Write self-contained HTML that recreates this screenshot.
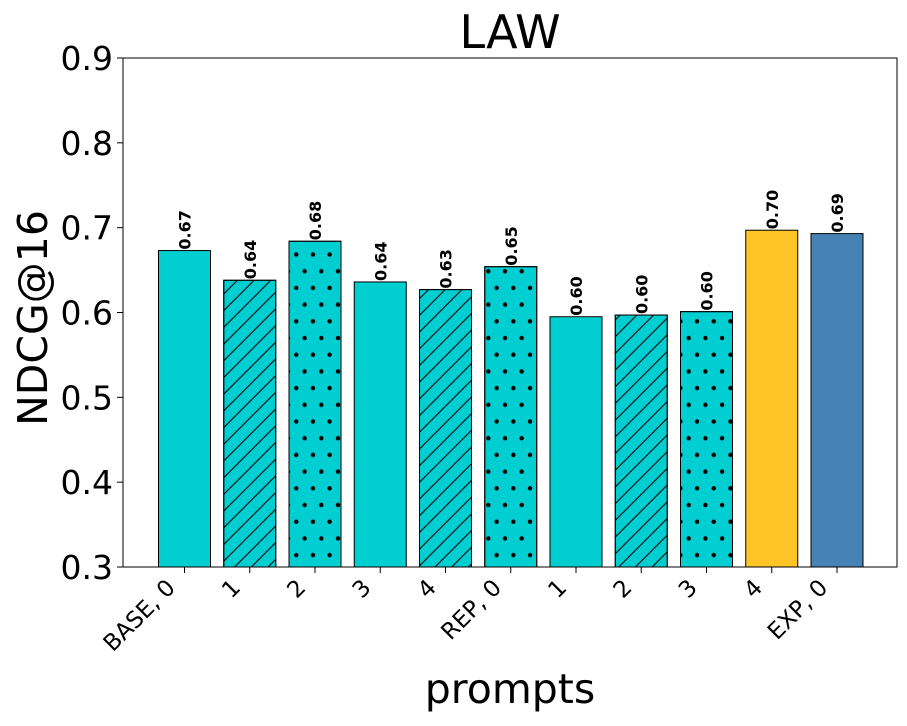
<!DOCTYPE html>
<html><head><meta charset="utf-8"><style>
body{margin:0;background:#fff;}
svg text{font-family:"DejaVu Sans","Liberation Sans",sans-serif;}
</style></head><body>
<svg id="chart" width="907" height="721" xmlns="http://www.w3.org/2000/svg">
<defs>
<pattern id="hatch" patternUnits="userSpaceOnUse" width="16.7" height="16.7">
<path d="M-2,2 L2,-2 M0,16.7 L16.7,0 M14.7,18.7 L18.7,14.7" stroke="#000" stroke-width="1.1"/>
</pattern>
<pattern id="dots" patternUnits="userSpaceOnUse" width="16.7" height="33.4" x="0" y="0">
<circle cx="4" cy="4" r="2.2" fill="#000"/>
<circle cx="12.35" cy="20.7" r="2.2" fill="#000"/>
</pattern>
</defs>
<text x="510" y="48" font-size="46" text-anchor="middle">LAW</text>
<text transform="translate(47,318) rotate(-90)" font-size="41" text-anchor="middle">NDCG@16</text>
<text x="510" y="703" font-size="41" text-anchor="middle">prompts</text>
<g id="bars"></g>
<g id="axes"></g>
</svg>
<script>
const categories=["BASE, 0","1","2","3","4","REP, 0","1","2","3","4","EXP, 0"];
const values=[0.673,0.638,0.684,0.636,0.627,0.654,0.595,0.597,0.601,0.697,0.693];
const labels=["0.67","0.64","0.68","0.64","0.63","0.65","0.60","0.60","0.60","0.70","0.69"];
const hatches=["none","hatch","dots","none","hatch","dots","none","hatch","dots","none","none"];
const colors=["#00CED1","#00CED1","#00CED1","#00CED1","#00CED1","#00CED1","#00CED1","#00CED1","#00CED1","#FFC425","#4682B4"];
const yTicks=[0.3,0.4,0.5,0.6,0.7,0.8,0.9];
const yTickLabels=["0.3","0.4","0.5","0.6","0.7","0.8","0.9"];
const NS="http://www.w3.org/2000/svg";
const L=123,R=897,T=58,B=567,ymin=0.3,ymax=0.9;
const step=65.25, x0=184.5, bw=52;
const xs=i=>x0+i*step;
const ys=v=>B-(v-ymin)/(ymax-ymin)*(B-T);
const bars=document.getElementById('bars'), axes=document.getElementById('axes');
function mk(tag,attrs,parent){const e=document.createElementNS(NS,tag);for(const k in attrs)e.setAttribute(k,attrs[k]);parent.appendChild(e);return e;}
values.forEach((v,i)=>{
  const x=xs(i)-bw/2,y=ys(v);
  const r=mk('rect',{x:x,y:y,width:bw,height:B-y,fill:colors[i],stroke:'#000','stroke-width':1},bars);
  
  
  if(hatches[i]!=="none"){
    const h=mk('rect',{x:x,y:y,width:bw,height:B-y,fill:'url(#'+hatches[i]+')',stroke:'#000','stroke-width':1},bars);
    
    
  }
  const t=mk('text',{transform:'translate('+(xs(i)+6)+','+(y-1)+') rotate(-90)','font-size':16,'font-weight':'bold'},bars);
  t.textContent=labels[i];
  
  
});
const frame=mk('rect',{x:L,y:T,width:R-L,height:B-T,fill:'none',stroke:'#000','stroke-width':1},axes);


yTicks.forEach((v,i)=>{
  const y=ys(v);
  mk('line',{x1:L-6,x2:L,y1:y,y2:y,stroke:'#000'},axes);
  const t=mk('text',{x:L-10,y:y+12,'font-size':33,'text-anchor':'end'},axes);
  t.textContent=yTickLabels[i];
  
  
});
categories.forEach((c,i)=>{
  const x=xs(i);
  mk('line',{x1:x,x2:x,y1:B,y2:B+6,stroke:'#000'},axes);
  const t=mk('text',{transform:'translate('+(x-8)+','+(B+22)+') rotate(-45)','font-size':23,'text-anchor':'end'},axes);
  t.textContent=c;
  
  
});
</script>
</body></html>
